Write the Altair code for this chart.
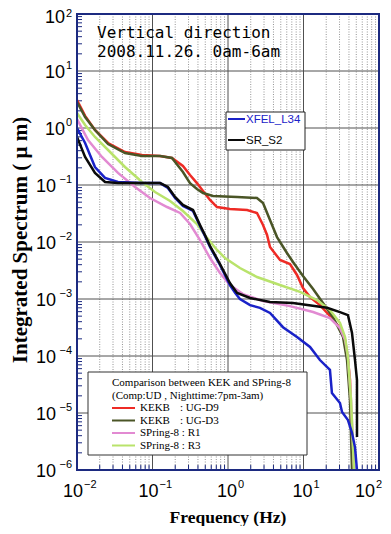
import altair as alt
import pandas as pd

W, H = 302, 456

# ---- data ----
red_f = [0.01, 0.0128, 0.0173, 0.0258, 0.0432, 0.0726, 0.126, 0.181, 0.253, 0.314, 0.388, 0.467, 0.578, 0.715, 1.06, 1.79, 2.42, 2.91, 3.29, 3.60, 4.89, 6.62, 8.20, 9.85, 12.2, 16.5, 22.4, 30.4, 35.5, 38.8, 41.3, 42.6, 45.3]
red_v = [3.10, 1.63, 0.922, 0.546, 0.379, 0.336, 0.323, 0.298, 0.216, 0.150, 0.108, 0.0785, 0.0546, 0.0411, 0.0379, 0.0364, 0.0323, 0.0199, 0.0133, 0.00816, 0.00483, 0.00411, 0.00264, 0.00156, 0.00108, 0.00078, 0.000503, 0.00031, 0.000191, 8.5e-5, 3.8e-5, 7.5e-6, 1e-6]

olive_f = [0.01, 0.0128, 0.0173, 0.0258, 0.0432, 0.0726, 0.126, 0.181, 0.253, 0.314, 0.388, 0.467, 0.633, 1.32, 2.42, 2.91, 3.60, 4.46, 6.04, 7.26, 9.85, 13.4, 18.1, 24.6, 33.4, 37.7, 41.3, 43.9]
olive_v = [2.86, 1.56, 0.922, 0.524, 0.364, 0.323, 0.323, 0.298, 0.169, 0.108, 0.0851, 0.0724, 0.0641, 0.0616, 0.0591, 0.0484, 0.0243, 0.0122, 0.00641, 0.00446, 0.00253, 0.0015, 0.00085, 0.00048, 0.000216, 8.5e-5, 1.69e-5, 1e-6]

pink_f = [0.01, 0.014, 0.0214, 0.0349, 0.0587, 0.0927, 0.156, 0.232, 0.314, 0.426, 0.578, 0.783, 1.06, 1.58, 2.91, 6.62, 13.4, 22.4, 30.4, 35.5, 38.8, 42.6, 46.7]
pink_v = [1.44, 0.616, 0.310, 0.163, 0.0923, 0.0591, 0.0411, 0.0323, 0.0207, 0.0108, 0.00524, 0.00286, 0.00176, 0.00122, 0.00092, 0.00075, 0.00059, 0.000464, 0.00031, 0.000191, 9.6e-5, 1.69e-5, 1e-6]

green_f = [0.01, 0.0128, 0.0173, 0.0258, 0.0432, 0.0726, 0.108, 0.171, 0.253, 0.388, 0.527, 0.715, 0.912, 1.44, 2.42, 4.46, 8.99, 15.1, 22.4, 30.4, 35.5, 38.8, 42.6, 46.7]
green_v = [1.83, 1.13, 0.695, 0.411, 0.207, 0.113, 0.0753, 0.0524, 0.035, 0.0207, 0.0118, 0.00724, 0.00524, 0.0035, 0.00243, 0.00183, 0.00133, 0.00096, 0.00064, 0.00038, 0.000216, 9.6e-5, 1.69e-5, 1e-6]

blue_f = [0.01, 0.0128, 0.0173, 0.0235, 0.0349, 0.0726, 0.126, 0.160, 0.199, 0.253, 0.344, 0.426, 0.495, 0.578, 0.783, 1.06, 1.24, 1.44, 1.96, 2.65, 3.60, 5.35, 8.20, 12.2, 16.5, 22.4, 23.8, 30.4, 32.4, 38.8, 43.9, 48.1, 51.1]
blue_v = [1.0, 0.546, 0.207, 0.133, 0.113, 0.108, 0.108, 0.0886, 0.0591, 0.0428, 0.035, 0.0191, 0.0128, 0.00816, 0.00395, 0.00176, 0.00128, 0.001, 0.00078, 0.00070, 0.00057, 0.00032, 0.000216, 0.000144, 8.5e-5, 5.7e-5, 2.24e-5, 1.5e-5, 1.04e-5, 7.5e-6, 4.5e-6, 2.5e-6, 1e-6]

black_f = [0.01, 0.0128, 0.0173, 0.0235, 0.0349, 0.0726, 0.126, 0.160, 0.199, 0.253, 0.344, 0.426, 0.495, 0.578, 0.783, 1.06, 1.32, 1.96, 3.60, 7.26, 20.5, 30.4, 38.8, 43.9, 48.1, 51.1, 51.1]
black_v = [0.695, 0.310, 0.163, 0.113, 0.108, 0.108, 0.108, 0.0923, 0.0616, 0.0446, 0.0364, 0.0199, 0.0133, 0.00851, 0.00411, 0.00191, 0.00128, 0.00104, 0.00089, 0.00085, 0.00070, 0.00059, 0.00052, 0.000253, 8.5e-5, 3.8e-5, 3.8e-6]

series_names = ["KEKB : UG-D9", "KEKB : UG-D3", "SPring-8 : R1", "SPring-8 : R3", "XFEL_L34", "SR_S2"]
series_colors = ["#ee2b25", "#4a5526", "#e28ad2", "#b9e36b", "#1a22c8", "#0a0a0a"]
series_data = [(red_f, red_v), (olive_f, olive_v), (pink_f, pink_v), (green_f, green_v), (blue_f, blue_v), (black_f, black_v)]

x_decades = [0.01, 0.1, 1, 10, 100]
x_exps = ["−2", "−1", "0", "1", "2"]
y_decades = [1e-6, 1e-5, 1e-4, 1e-3, 1e-2, 1e-1, 1, 10, 100]
y_exps = ["−6", "−5", "−4", "−3", "−2", "−1", "0", "1", "2"]
mantissas = [2, 3, 4, 5, 6, 7, 8, 9]

title_lines = ["Vertical direction", "2008.11.26. 0am-6am"]
legend2_head = ["Comparison between KEK and SPring-8", "(Comp:UD , Nighttime:7pm-3am)"]
legend2_a = ["KEKB", "KEKB", "SPring-8 : R1", "SPring-8 : R3"]
legend2_b = [": UG-D9", ": UG-D3", "", ""]

# ---- build tables ----
xs = alt.Scale(type="log", domain=[0.01, 100])
ys = alt.Scale(type="log", domain=[1e-6, 100])

minor_x = [m * d for d in x_decades[:-1] for m in mantissas]
minor_y = [m * d for d in y_decades[:-1] for m in mantissas]

df_xd = pd.DataFrame({"v": x_decades, "e": x_exps})
df_yd = pd.DataFrame({"v": y_decades, "e": y_exps})
df_mx = pd.DataFrame({"v": minor_x})
df_my = pd.DataFrame({"v": minor_y})
one = pd.DataFrame({"a": [0]})

X = lambda: alt.X("v:Q", scale=xs, axis=None)
Y = lambda: alt.Y("v:Q", scale=ys, axis=None)

layers = []

# minor vertical dotted grid
layers.append(alt.Chart(df_mx).mark_rule(color="#7a7a7a", strokeWidth=0.8, strokeDash=[1, 1.5]).encode(
    x=X(), y=alt.value(0), y2=alt.value(H)))
# major grid
layers.append(alt.Chart(df_xd).mark_rule(color="#505050", strokeWidth=1).encode(
    x=X(), y=alt.value(0), y2=alt.value(H)))
layers.append(alt.Chart(df_yd).mark_rule(color="#505050", strokeWidth=1).encode(
    y=Y(), x=alt.value(0), x2=alt.value(W)))
# minor ticks
layers.append(alt.Chart(df_mx).mark_rule(color="#1c2a80", strokeWidth=1).encode(
    x=X(), y=alt.value(H), y2=alt.value(H - 5)))
layers.append(alt.Chart(df_my).mark_rule(color="#1c2a80", strokeWidth=1).encode(
    y=Y(), x=alt.value(0), x2=alt.value(5)))

# data lines
for name, color, (fs, vs) in zip(series_names, series_colors, series_data):
    d = pd.DataFrame({"f": fs, "v": vs, "i": list(range(len(fs)))})
    layers.append(alt.Chart(d).mark_line(color=color, strokeWidth=2.5, clip=True).encode(
        x=alt.X("f:Q", scale=xs, axis=None),
        y=alt.Y("v:Q", scale=ys, axis=None),
        order="i:Q"))

# frame
layers.append(alt.Chart(one).mark_rect(fill=None, stroke="#1c2a80", strokeWidth=2).encode(
    x=alt.value(0), x2=alt.value(W), y=alt.value(0), y2=alt.value(H)))

# tick labels x
lab_font = "Liberation Sans"
def xlab(flt, dx10, dxe):
    base = alt.Chart(df_xd).transform_filter(flt)
    return [
        base.mark_text(align="right", baseline="middle", fontSize=18, font=lab_font, dx=dx10, color="black").encode(
            x=X(), y=alt.value(H + 22), text=alt.value("10")),
        base.mark_text(align="left", baseline="middle", fontSize=11, font=lab_font, dx=dxe, color="black").encode(
            x=X(), y=alt.value(H + 15), text="e:N"),
    ]
layers += xlab("datum.v < 1", 6, 7)
layers += xlab("datum.v >= 1 && datum.v < 100", 9, 10)
layers += xlab("datum.v >= 100", -4, -3)

# tick labels y
def ylab(flt, x10, dy10, dye):
    base = alt.Chart(df_yd).transform_filter(flt)
    return [
        base.mark_text(align="right", baseline="middle", fontSize=18, font=lab_font, dy=dy10, color="black").encode(
            y=Y(), x=alt.value(x10), text=alt.value("10")),
        base.mark_text(align="right", baseline="middle", fontSize=11, font=lab_font, dy=dye, color="black").encode(
            y=Y(), x=alt.value(-5), text="e:N"),
    ]
layers += ylab("datum.v < 1", -21, 2, -5)
layers += ylab("datum.v >= 1 && datum.v < 100", -12, 2, -5)
layers += ylab("datum.v >= 100", -12, 4, 0)

# axis titles
layers.append(alt.Chart(one).mark_text(
    text="Frequency (Hz)", font="Liberation Serif", fontWeight="bold", fontSize=17.5,
    align="center", baseline="alphabetic", color="black").encode(
    x=alt.value(W / 2), y=alt.value(H + 53)))
layers.append(alt.Chart(one).mark_text(
    text="Integrated  Spectrum ( μ m)", font="Liberation Serif", fontWeight="bold", fontSize=21,
    align="center", baseline="middle", angle=270, color="black").encode(
    x=alt.value(-56), y=alt.value(H / 2 - 2)))

# in-plot title
for k, t in enumerate(title_lines):
    layers.append(alt.Chart(one).mark_text(
        text=t, font="DejaVu Sans Mono", fontSize=16, align="left", baseline="alphabetic", color="black").encode(
        x=alt.value(20), y=alt.value(24 + 19 * k)))

# legend 1 (XFEL_L34 / SR_S2)
layers.append(alt.Chart(one).mark_rect(fill="white", stroke="#222222", strokeWidth=1).encode(
    x=alt.value(149), x2=alt.value(228), y=alt.value(98), y2=alt.value(136)))
for k, (name, color) in enumerate(zip(series_names[4:], series_colors[4:])):
    yy = 105 + 21 * k
    layers.append(alt.Chart(one).mark_rule(color=color, strokeWidth=2).encode(
        x=alt.value(151), x2=alt.value(168), y=alt.value(yy)))
    layers.append(alt.Chart(one).mark_text(
        text=name, font="Liberation Sans", fontSize=11.5, align="left",
        baseline="middle", color=color).encode(x=alt.value(169), y=alt.value(yy + 1)))

# legend 2 (KEK / SPring-8)
layers.append(alt.Chart(one).mark_rect(fill="white", stroke="#333333", strokeWidth=1).encode(
    x=alt.value(11), x2=alt.value(230), y=alt.value(358), y2=alt.value(441)))
for k, t in enumerate(legend2_head):
    layers.append(alt.Chart(one).mark_text(
        text=t, font="Liberation Serif", fontSize=11, align="left", baseline="middle", color="black").encode(
        x=alt.value(35), y=alt.value(369 + 12.5 * k)))
for k in range(4):
    yy = 394 + 12.5 * k
    layers.append(alt.Chart(one).mark_rule(color=series_colors[k], strokeWidth=2).encode(
        x=alt.value(35), x2=alt.value(58), y=alt.value(yy)))
    layers.append(alt.Chart(one).mark_text(
        text=legend2_a[k], font="Liberation Serif", fontSize=11, align="left", baseline="middle", color="black").encode(
        x=alt.value(63), y=alt.value(yy)))
    if legend2_b[k]:
        layers.append(alt.Chart(one).mark_text(
            text=legend2_b[k], font="Liberation Serif", fontSize=11, align="left", baseline="middle", color="black").encode(
            x=alt.value(103), y=alt.value(yy)))

chart = alt.layer(*layers).properties(
    width=W, height=H,
    autosize=alt.AutoSizeParams(type="none"),
    padding={"left": 69, "top": 6, "right": 4, "bottom": 56},
).configure_view(stroke=None)

chart.save("out.html", embed_options={"renderer": "svg", "actions": False})
